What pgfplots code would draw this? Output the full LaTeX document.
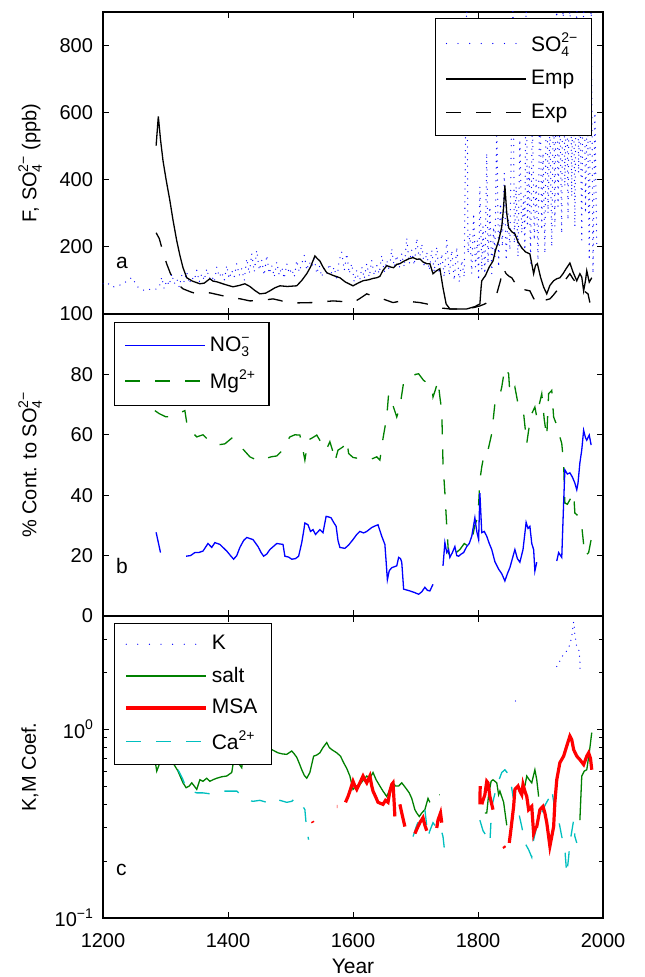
\documentclass[border=0pt]{standalone}
\usepackage{fontspec}
\setmainfont{Liberation Sans}
\usepackage{pgfplots}
\pgfplotsset{compat=1.18}
\definecolor{mblue}{rgb}{0,0,1}
\definecolor{mgreen}{rgb}{0,0.5,0}
\definecolor{mred}{rgb}{1,0,0}
\definecolor{mcyan}{rgb}{0,0.75,0.75}
\newcommand{\sofour}{SO\rlap{\raisebox{-0.5ex}{\scriptsize 4}}\raisebox{0.8ex}{\scriptsize 2−}}
\newcommand{\nothree}{NO\rlap{\raisebox{-0.5ex}{\scriptsize 3}}\raisebox{0.8ex}{\scriptsize −}}
\pgfplotsset{
 panel/.style={scale only axis, width=250pt, height=151pt, xmin=1200, xmax=2000,
  xtick={1200,1400,...,2000}, tick align=inside, xtick pos=both, ytick pos=both,
  major tick length=3pt, minor tick length=1.8pt,
  axis line style={line width=0.6pt}, every tick/.style={black, line width=0.5pt},
  /pgf/number format/assume math mode=true, /pgf/number format/set thousands separator={},
  tick label style={font=\fontsize{10}{12}\selectfont},
  yticklabel style={xshift=-1.5pt}, xticklabel style={yshift=-4pt},
  unbounded coords=jump, clip=true, legend cell align=left,
  legend image code/.code={\draw[##1] (0pt,0pt) -- (40pt,0pt);},
  legend style={draw=black, line width=0.6pt, fill=white, font=\fontsize{10.5}{12}\selectfont,
   inner xsep=5pt, inner ysep=4pt, row sep=3pt,
   /tikz/every even column/.append style={column sep=5pt}},
  ylabel style={at={(axis description cs:-0.146,0.5)}, anchor=center, font=\fontsize{10}{12}\selectfont},
 },
 sodot/.style={mblue, line width=0.65pt, line cap=round, dash pattern=on 0pt off 3.2pt},
 legdot/.style={mblue, line width=0.65pt, line cap=round, dash pattern=on 0pt off 5.8pt},
 mdash/.style={dash pattern=on 7.5pt off 7.5pt},
}
\begin{document}
\begin{tikzpicture}
\useasboundingbox (-51.5pt,-29.5pt) rectangle (270.5pt,459pt);
% ---------------- panel a
\begin{axis}[panel, at={(0pt,302pt)}, anchor=south west, ymin=0, ymax=900,
  ytick={200,400,600,800}, xticklabels={},
  ylabel={F, \sofour\ (ppb)},
  legend style={at={(axis description cs:0.978,0.98)}, anchor=north east, inner ysep=5pt, row sep=4pt}]
\addlegendimage{legdot}\addlegendentry{\sofour}
\addlegendimage{black, line width=0.65pt}\addlegendentry{Emp}
\addlegendimage{black, line width=0.65pt, mdash}\addlegendentry{Exp}
\addplot[sodot, forget plot] coordinates {
(1200,90)(1206,94)(1215,80)(1226,85)(1236,95)(1246,109)(1256,80)(1267,69)(1278,75)(1286,74)
(1290,80)(1294,110)(1298,75)(1302,100)(1306,85)(1310,120)(1314,90)(1318,105)(1322,80)(1326,115)
(1330,95)(1334,125)(1338,90)(1342,110)(1346,100)(1350,130)(1354,95)(1358,120)(1362,100)(1366,135)
(1370,105)(1374,115)(1378,95)(1382,140)(1386,110)(1390,125)(1394,100)(1398,145)(1402,105)(1406,130)
(1410,110)(1414,150)(1418,115)(1422,135)(1426,100)(1430,165)(1434,120)(1438,180)(1442,125)(1446,190)
(1450,130)(1454,160)(1458,115)(1462,175)(1466,120)(1470,145)(1474,110)(1478,155)(1482,115)(1486,140)
(1490,105)(1494,150)(1498,120)(1502,135)(1506,110)(1510,160)(1514,125)(1518,150)(1522,175)(1526,130)
(1530,155)(1534,140)(1538,165)(1542,120)(1546,145)(1550,110)(1554,140)(1558,115)(1562,150)(1566,120)
(1570,140)(1574,100)(1578,160)(1582,185)(1586,130)(1590,180)(1594,120)(1598,150)(1602,95)(1606,130)
(1610,90)(1614,140)(1618,105)(1622,150)(1626,110)(1630,160)(1634,115)(1638,145)(1642,120)(1646,175)
(1650,125)(1654,160)(1658,130)(1662,195)(1666,140)(1670,175)(1674,135)(1678,180)(1682,140)(1686,227)
(1690,150)(1694,190)(1698,145)(1702,226)(1706,160)(1710,209)(1714,140)(1718,185)(1722,130)(1726,190)
(1730,125)(1734,200)(1738,120)(1742,180)(1746,110)(1750,221)(1754,115)(1758,190)(1762,100)(1766,200)
(1770,95)(1774,160)(1778,110)(1782,950)(1784,180)(1787,240)(1790,120)(1793,300)(1796,140)(1799,220)
(1801,100)(1803,380)(1806,130)(1808,260)(1811,110)(1814,480)(1816,150)(1819,320)(1822,120)(1825,260)
(1827,170)(1830,560)(1833,140)(1836,330)(1839,200)(1842,420)(1845,160)(1848,300)(1851,190)(1854,620)
(1856,950)(1858,210)(1861,380)(1864,170)(1867,520)(1870,240)(1873,350)(1875,190)(1877,950)(1879,260)
(1882,440)(1884,150)(1887,600)(1890,220)(1893,400)(1896,160)(1899,700)(1902,250)(1904,480)(1907,180)
(1910,820)(1912,300)(1915,560)(1918,200)(1921,680)(1923,260)(1926,950)(1928,320)(1931,600)(1934,240)
(1936,950)(1939,380)(1942,720)(1944,280)(1947,950)(1950,350)(1952,820)(1955,260)(1958,950)(1961,420)
(1963,700)(1966,220)(1969,950)(1972,300)(1975,650)(1978,160)(1981,950)(1984,120)(1987,600)(1990,200)};
\addplot[black, line width=0.65pt, forget plot] coordinates {
(1285,502)(1288.5,589)(1292,520)(1296,457)(1301,400)(1307,338)(1312,280)(1318,218)(1323,175)(1328,138)
(1334,108)(1343,98)(1355,90)(1362,92)(1371,105)(1376,98)(1382,96)(1395,88)(1408,81)(1418,85)
(1427,90)(1435,82)(1443,70)(1451,60)(1460,62)(1467,69)(1475,78)(1483,84)(1495,82)(1510,84)
(1518,100)(1526,120)(1532,140)(1539,173)(1543,165)(1547,158)(1552,140)(1558,123)(1568,115)(1579,108)
(1588,95)(1600,84)(1608,92)(1616,99)(1625,102)(1632,106)(1638,108)(1643,112)(1648,130)(1654,144)
(1660,140)(1665,138)(1670,148)(1675,150)(1682,158)(1690,165)(1696,168)(1702,163)(1707,164)(1712,155)
(1718,150)(1723,150)(1728,120)(1733,128)(1739,135)(1744,78)(1749,30)(1755,15)(1770,15)(1782,15)
(1795,22)(1803,30)(1805,80)(1806,99)(1812,115)(1818,140)(1824,158)(1828,190)(1833,218)(1838,260)
(1841,320)(1843,383)(1846,300)(1849,257)(1854,245)(1859,239)(1864,215)(1870,197)(1876,185)(1883,179)
(1886,150)(1889,120)(1892,145)(1895,150)(1900,110)(1905,80)(1910,60)(1915,85)(1921,99)(1926,105)
(1931,108)(1936,120)(1941,135)(1947,152)(1952,125)(1958,99)(1963,120)(1966,110)(1969,69)(1972,100)
(1974,129)(1978,95)(1982,108)};
\addplot[black, line width=0.65pt, mdash, forget plot] coordinates {
(1285,242)(1290,225)(1294,198)(1302,149)(1308,120)(1315,99)(1322,85)(1328,75)(1340,66)(1350,60)
(1360,62)(1371,63)(1390,55)(1408,48)(1420,45)(1435,39)(1450,40)(1460,42)(1472,45)(1484,40)
(1494,34)(1510,33)(1536,34)(1550,36)(1568,39)(1584,37)(1600,34)(1610,45)(1622,60)(1630,55)
(1643,48)(1652,42)(1664,34)(1675,38)(1686,39)(1697,36)(1707,34)(1718,30)(1728,24)(1740,18)
(1755,15)(1782,15)(1795,20)(1803,24)(1811,30)(1819,39)(1825,48)(1830,60)(1836,100)(1840,138)
(1845,120)(1850,112)(1854,108)(1860,90)(1867,69)(1875,72)(1883,69)(1888,50)(1894,30)(1905,40)
(1915,45)(1920,55)(1926,69)(1931,80)(1936,90)(1941,105)(1947,120)(1952,105)(1958,90)(1965,75)
(1970,68)(1976,60)(1979,34)};
\node[anchor=west, font=\fontsize{10.5}{12}\selectfont] at (axis description cs:0.012,0.17) {a};
\end{axis}
% ---------------- panel b
\begin{axis}[panel, at={(0pt,151pt)}, anchor=south west, ymin=0, ymax=100,
  ytick={0,20,...,100}, xticklabels={},
  ylabel={\% Cont. to \sofour},
  legend style={at={(axis description cs:0.022,0.974)}, anchor=north west, inner ysep=5pt, row sep=4pt}]
\addlegendimage{mblue, line width=0.65pt}\addlegendentry{\nothree}
\addlegendimage{mgreen, line width=0.65pt, mdash}\addlegendentry{Mg\raisebox{0.8ex}{\scriptsize 2+}}
\addplot[mgreen, line width=0.65pt, mdash, forget plot] coordinates {
(1283,68)(1290,67)(1300,66)(1310,66)(1320,67)(1331,68)(1335,62.6)(1342,61)(1350,59.3)(1360,60)
(1371,57.7)(1382,56.6)(1395,57)(1406,58.9)(1416,57.1)(1425,55)(1435,52.7)(1442,52)(1448,51.4)(1458,52)
(1469,52.7)(1478,53)(1485,54.4)(1492,57)(1499,59.3)(1507,60)(1515,59.9)(1519,56)(1523,51.6)(1528,58.2)
(1535,59)(1542,59.9)(1550,57.1)(1557,54.9)(1563,57.7)(1567,55)(1571,51.1)(1576,54.9)(1584,56)(1590,58.2)
(1593,53.8)(1600,52.5)(1608,52.2)(1622,52.2)(1630,52)(1638,52.7)(1643,51.6)(1648,58.8)(1654,65.9)(1657,73.6)
(1660,72)(1663,70.3)(1670,65.9)(1675,69.2)(1681,77.4)(1688,78)(1694,79)(1700,80)(1705,80.2)(1713,78)
(1720,77)(1726,75.8)(1728,72.5)(1732,75)(1736,78)(1739,72.5)(1742,68)(1744,50.5)(1747,40.8)(1750,29.7)
(1753,19.8)(1758,22)(1765,21)(1771,22)(1778,24)(1785,23)(1790,25)(1795,30)(1800,33)(1803,45)
(1806,49.4)(1811,54.9)(1816,54.9)(1822,60.4)(1827,70.3)(1833,71.4)(1838,75.8)(1843,82.3)(1849,80.2)(1851,73.6)
(1855,74)(1859,75.8)(1865,69.2)(1873,67)(1878,57.1)(1881,61.5)(1886,67)(1891,69.2)(1894,65.9)(1898,70)
(1902,73.6)(1906,65)(1910,59.3)(1913,73.6)(1918,74.7)(1921,65.9)(1927,62.6)(1931,59.3)(1934,57.1)(1937,50.5)
(1939,37.4)(1943,37)(1947,38.5)(1953,40.7)(1955,34.1)(1961,33)(1966,29.7)(1971,19.8)(1977,21)(1981,25.3)};
\addplot[mblue, line width=0.65pt, forget plot] coordinates {
(1285,27.7)(1292,21)(1300,nan)(1333,19.8)(1340,20)(1347,21)(1353,21)(1360,21.5)(1368,24)(1374,22.7)
(1379,24.3)(1387,23.7)(1398,21.5)(1404,20)(1409,18.8)(1414,20)(1419,22.7)(1425,25)(1430,26)(1440,25.3)
(1448,23)(1453,21)(1457,19.8)(1462,20.5)(1467,22)(1478,24)(1488,23.7)(1491,19.8)(1497,19.5)(1502,18.8)
(1508,19)(1513,19.8)(1518,24.3)(1521,28)(1523,30.8)(1528,30.2)(1532,28)(1536,28.6)(1540,27)(1547,28.6)
(1552,27.6)(1557,33)(1561,32.8)(1565,32.5)(1569,31)(1573,29.7)(1576,25)(1579,22.7)(1587,22.4)(1593,23.5)
(1600,25.3)(1606,27)(1611,28)(1617,27.5)(1622,28)(1630,29.3)(1635,29.8)(1640,30.2)(1646,26.4)(1651,23.7)
(1653,18)(1655,12)(1658,15)(1662,16)(1670,16.6)(1673,19.4)(1676,19)(1678,17.8)(1681,8.9)(1691,8.3)
(1698,7.8)(1705,7.2)(1710,8)(1715,9.5)(1719,8.5)(1723,8.3)(1728,10.5)(1735,nan)(1744,16.6)(1747,24.3)
(1750,21)(1753,22)(1755,19.4)(1759,21)(1763,23)(1766,20)(1769,19.8)(1773,20.5)(1777,21)(1782,23)
(1786,24)(1790,26.4)(1795,32.5)(1798,28)(1801,25.3)(1803,40.7)(1806,27.6)(1810,28)(1814,26.4)(1818,24)
(1822,22)(1827,18)(1833,15.5)(1838,14)(1843,11.6)(1847,14)(1851,16)(1855,19)(1859,22)(1863,19)
(1867,17.8)(1872,22)(1877,31)(1880,29)(1883,29.7)(1886,24)(1889,22)(1891,14.9)(1894,17.8)(1910,nan)
(1926,18.2)(1929,21)(1932,20)(1934,19.4)(1937,37.5)(1939,48.4)(1943,47)(1947,47.4)(1951,46)(1955,44)
(1958,41.8)(1960,44)(1963,50.7)(1966,55)(1969,61.5)(1972,59)(1974,58.2)(1978,59.9)(1981,56.6)};
\node[anchor=west, font=\fontsize{10.5}{12}\selectfont] at (axis description cs:0.012,0.164) {b};
\end{axis}
% ---------------- panel c
\begin{axis}[panel, at={(0pt,0pt)}, anchor=south west, ymode=log, ymin=0.1, ymax=3.98,
  ytick={0.1,1}, yticklabels={10\raisebox{0.8ex}{\scriptsize −1},10\raisebox{0.8ex}{\scriptsize 0}},
  minor ytick={0.2,0.3,0.4,0.5,0.6,0.7,0.8,0.9,2,3},
  ylabel={K,M Coef.}, xlabel={Year},
  xlabel style={at={(axis description cs:0.5,0)}, anchor=center, yshift=-24pt, font=\fontsize{10.5}{12}\selectfont},
  legend style={at={(axis description cs:0.022,0.977)}, anchor=north west}]
\addlegendimage{legdot}\addlegendentry{K}
\addlegendimage{mgreen, line width=0.65pt}\addlegendentry{salt}
\addlegendimage{mred, line width=1.6pt}\addlegendentry{MSA}
\addlegendimage{mcyan, line width=0.65pt, mdash}\addlegendentry{Ca\raisebox{0.8ex}{\scriptsize 2+}}
\addplot[mgreen, line width=0.65pt, forget plot] coordinates {
(1283,0.69)(1286,0.6)(1295,0.72)(1310,0.68)(1320,0.6)(1328,0.52)(1333,0.49)(1338,0.5)(1342,0.52)(1346,0.5)
(1350,0.48)(1355,0.54)(1360,0.53)(1366,0.55)(1371,0.53)(1376,0.54)(1382,0.55)(1390,0.56)(1398,0.565)(1406,0.59)
(1408,0.65)(1416,0.665)(1422,0.625)(1424,0.71)(1430,0.74)(1440,0.8)(1455,0.82)(1470,0.78)(1480,0.75)(1487,0.74)
(1494,0.736)(1502,0.767)(1506,0.74)(1510,0.71)(1514,0.66)(1518,0.61)(1522,0.57)(1526,0.55)(1531,0.59)(1537,0.72)
(1542,0.73)(1547,0.75)(1552,0.8)(1558,0.85)(1562,0.8)(1566,0.78)(1574,0.75)(1580,0.72)(1585,0.665)(1590,0.62)
(1595,0.565)(1600,0.48)(1605,0.5)(1611,0.51)(1617,0.54)(1622,0.565)(1627,0.55)(1632,0.59)(1637,0.54)(1643,0.5)
(1648,0.47)(1654,0.44)(1659,0.48)(1664,0.52)(1668,0.5)(1673,0.5)(1678,0.52)(1682,0.5)(1686,0.48)(1690,0.46)
(1694,0.43)(1699,0.375)(1702,0.36)(1706,0.345)(1710,0.36)(1715,0.375)(1720,0.43)(1723,0.41)(1730,nan)(1738,0.45)
(1739,0.45)(1760,nan)(1811,0.36)(1814,0.36)(1817,0.45)(1821,0.53)(1824,0.54)(1830,0.52)(1833,0.45)(1835,0.47)
(1841,0.41)(1846,0.31)(1860,nan)(1875,0.5)(1878,0.565)(1882,0.54)(1886,0.52)(1891,0.61)(1894,0.54)(1897,0.44)
(1930,nan)(1963,0.33)(1966,0.565)(1970,0.6)(1974,0.61)(1978,0.75)(1982,0.96)};
\addplot[mcyan, line width=0.65pt, mdash, forget plot] coordinates {
(1320,0.61)(1327,0.55)(1334,0.48)(1342,0.47)(1350,0.46)(1360,0.46)(1371,0.455)(1380,0.46)(1392,0.47)(1403,0.47)
(1414,0.47)(1424,0.44)(1433,0.42)(1440,0.415)(1451,0.42)(1462,0.41)(1472,0.4)(1483,0.42)(1494,0.41)(1502,0.415)
(1507,0.43)(1515,0.415)(1523,0.375)(1526,0.29)(1529,0.26)(1600,nan)(1696,0.27)(1702,0.31)(1710,0.36)(1715,0.375)
(1720,0.27)(1723,0.29)(1728,0.32)(1734,0.3)(1739,0.31)(1744,0.27)(1747,0.22)(1750,0.21)(1780,nan)(1803,0.33)
(1808,0.29)(1814,0.27)(1819,0.25)(1822,0.39)(1830,0.5)(1838,0.59)(1843,0.61)(1851,0.565)(1856,0.44)(1864,0.375)
(1870,0.305)(1875,0.25)(1881,0.23)(1886,0.21)(1889,0.26)(1894,0.305)(1900,0.35)(1908,0.4)(1915,0.44)(1918,0.48)
(1923,0.375)(1929,0.33)(1934,0.27)(1939,0.23)(1942,0.17)(1945,0.21)(1947,0.25)(1953,0.33)(1955,0.27)(1958,0.25)};
\addplot[mred, line width=1.6pt, forget plot] coordinates {
(1535,0.325)(1536,0.32)(1550,nan)(1574,0.39)(1575,0.39)(1580,nan)(1588,0.41)(1592,0.44)(1595,0.47)(1600,0.53)
(1603,0.5)(1606,0.48)(1611,0.52)(1616,0.565)(1619,0.54)(1622,0.52)(1627,0.565)(1630,0.5)(1632,0.47)(1636,0.44)
(1640,0.41)(1648,0.4)(1652,0.42)(1656,0.41)(1659,0.47)(1662,0.51)(1664,0.52)(1666,0.4)(1667,0.345)(1670,nan)
(1675,0.4)(1678,0.36)(1683,0.305)(1690,nan)(1699,0.28)(1703,0.3)(1707,0.32)(1712,0.34)(1715,0.31)(1718,0.29)
(1725,nan)(1734,0.3)(1736,0.33)(1740,0.36)(1742,0.32)(1770,nan)(1803,0.4)(1803.5,0.5)(1804.5,nan)(1806,0.4)
(1808,0.42)(1811,0.45)(1814,0.53)(1816,0.52)(1819,0.44)(1822,0.4)(1824,0.375)(1830,nan)(1841,0.24)(1843,0.235)
(1846,nan)(1850,0.25)(1853,0.3)(1857,0.39)(1859,0.48)(1864,0.5)(1867,0.47)(1870,0.45)(1872,0.51)(1875,0.47)
(1878,0.44)(1881,0.375)(1886,0.39)(1889,0.28)(1892,0.3)(1894,0.305)(1899,0.375)(1904,0.39)(1907,0.36)(1910,0.32)
(1913,0.27)(1915,0.24)(1918,0.27)(1921,0.305)(1923,0.41)(1926,0.54)(1931,0.665)(1937,0.72)(1942,0.815)(1947,0.92)
(1950,0.88)(1953,0.78)(1958,0.72)(1963,0.69)(1969,0.65)(1972,0.69)(1974,0.72)(1977,0.75)(1980,0.7)(1982,0.61)};
\addplot[legdot, dash pattern=on 0pt off 3pt, forget plot] coordinates {
(1860,1.41)(1863,1.43)(1890,nan)(1926,2.15)(1931,2.3)(1937,2.5)(1942,2.6)(1947,2.8)(1950,3.1)(1953,3.7)
(1955,3.2)(1958,2.7)(1962,2.6)(1963,2.3)(1963.5,1.96)};
\node[anchor=west, font=\fontsize{10.5}{12}\selectfont] at (axis description cs:0.012,0.16) {c};
\end{axis}
\end{tikzpicture}
\end{document}
